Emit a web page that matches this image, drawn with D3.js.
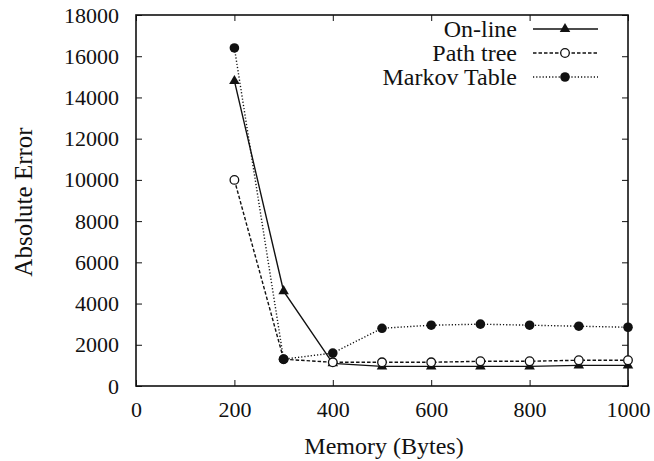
<!DOCTYPE html>
<html><head><meta charset="utf-8">
<script src="https://cdn.jsdelivr.net/npm/d3@7"></script>
<style>body{margin:0;background:#fff}svg{display:block}text{font-family:"Liberation Serif","Times New Roman",serif;fill:#111}</style>
</head><body><svg id="c" width="654" height="461"></svg>
<script>
const memory = [200,300,400,500,600,700,800,900,1000];
const onLine = [14800,4600,1100,950,950,950,950,1000,1000];
const pathTree = [10000,1300,1150,1150,1150,1200,1200,1250,1250];
const markovTable = [16400,1300,1600,2800,2950,3000,2950,2900,2850];
const seriesNames = ["On-line","Path tree","Markov Table"];
const xTicks = [0,200,400,600,800,1000];
const yTicks = [0,2000,4000,6000,8000,10000,12000,14000,16000,18000];

const FONT = '"Liberation Serif","Times New Roman",serif';
const svg = d3.select("#c");
const L=136,R=628,T=15,B=386;
const x = d3.scaleLinear().domain([0,1000]).range([L,R]);
const y = d3.scaleLinear().domain([0,18000]).range([B,T]);

const series = [
  {name:seriesNames[0], vals:onLine, dash:null, marker:"tri"},
  {name:seriesNames[1], vals:pathTree, dash:"3.5,2", marker:"open"},
  {name:seriesNames[2], vals:markovTable, dash:"1.2,2", marker:"dot"}
];

const fs = 22;
const fmt = d3.format("d");
function styleAxis(g){
  g.attr("font-family",FONT).attr("font-size",fs);
  g.select(".domain").remove();
  g.selectAll("text").attr("font-family",FONT).attr("font-size",fs).attr("fill","#111");
  g.selectAll("line").attr("stroke","#111");
}
svg.append("g").attr("transform",`translate(0,${B})`)
  .call(d3.axisBottom(x).tickValues(xTicks).tickFormat(fmt).tickSizeInner(-6).tickSizeOuter(0).tickPadding(15))
  .call(styleAxis);
svg.append("g").attr("transform",`translate(0,${T})`)
  .call(d3.axisTop(x).tickValues(xTicks).tickSizeInner(-6).tickSizeOuter(0).tickFormat(""))
  .call(styleAxis);
svg.append("g").attr("transform",`translate(${L},0)`)
  .call(d3.axisLeft(y).tickValues(yTicks).tickFormat(fmt).tickSizeInner(-6).tickSizeOuter(0).tickPadding(17))
  .call(styleAxis);
svg.append("g").attr("transform",`translate(${R},0)`)
  .call(d3.axisRight(y).tickValues(yTicks).tickSizeInner(-6).tickSizeOuter(0).tickFormat(""))
  .call(styleAxis);

svg.append("rect").attr("x",L).attr("y",T).attr("width",R-L).attr("height",B-T)
  .attr("fill","none").attr("stroke","#111").attr("stroke-width",1.6);

// axis titles
svg.append("text").attr("x",384).attr("y",446).attr("dy","0.35em").attr("text-anchor","middle").attr("font-size",24).text("Memory (Bytes)");
svg.append("text").attr("transform",`translate(23,202) rotate(-90)`).attr("dy","0.35em").attr("text-anchor","middle").attr("font-size",25).text("Absolute Error");

function drawMarker(g,type,cx,cy){
  if(type==="tri"){
    g.append("path").attr("d",d3.symbol(d3.symbolTriangle,48)()).attr("transform",`translate(${cx},${cy})`).attr("fill","#111");
  } else if(type==="open"){
    g.append("circle").attr("cx",cx).attr("cy",cy).attr("r",4.3).attr("fill","#fff").attr("stroke","#111").attr("stroke-width",1.3);
  } else {
    g.append("circle").attr("cx",cx).attr("cy",cy).attr("r",4.8).attr("fill","#111");
  }
}

const line = d3.line().x((d,i)=>x(memory[i])).y(d=>y(d));
series.forEach(s=>{
  const g = svg.append("g");
  g.append("path").attr("d",line(s.vals)).attr("fill","none").attr("stroke","#111")
    .attr("stroke-width",1.4).attr("stroke-dasharray",s.dash);
  s.vals.forEach((v,i)=>drawMarker(g,s.marker,x(memory[i]),y(v)));
});

// legend
series.forEach((s,i)=>{
  const ly = 29 + i*24;
  const g = svg.append("g");
  g.append("text").attr("x",517).attr("y",ly).attr("dy","0.35em").attr("text-anchor","end").attr("font-size",24).text(s.name);
  g.append("line").attr("x1",533).attr("x2",598).attr("y1",ly).attr("y2",ly).attr("stroke","#111").attr("stroke-width",1.4).attr("stroke-dasharray",s.dash);
  drawMarker(g,s.marker,565,ly);
});
</script></body></html>
